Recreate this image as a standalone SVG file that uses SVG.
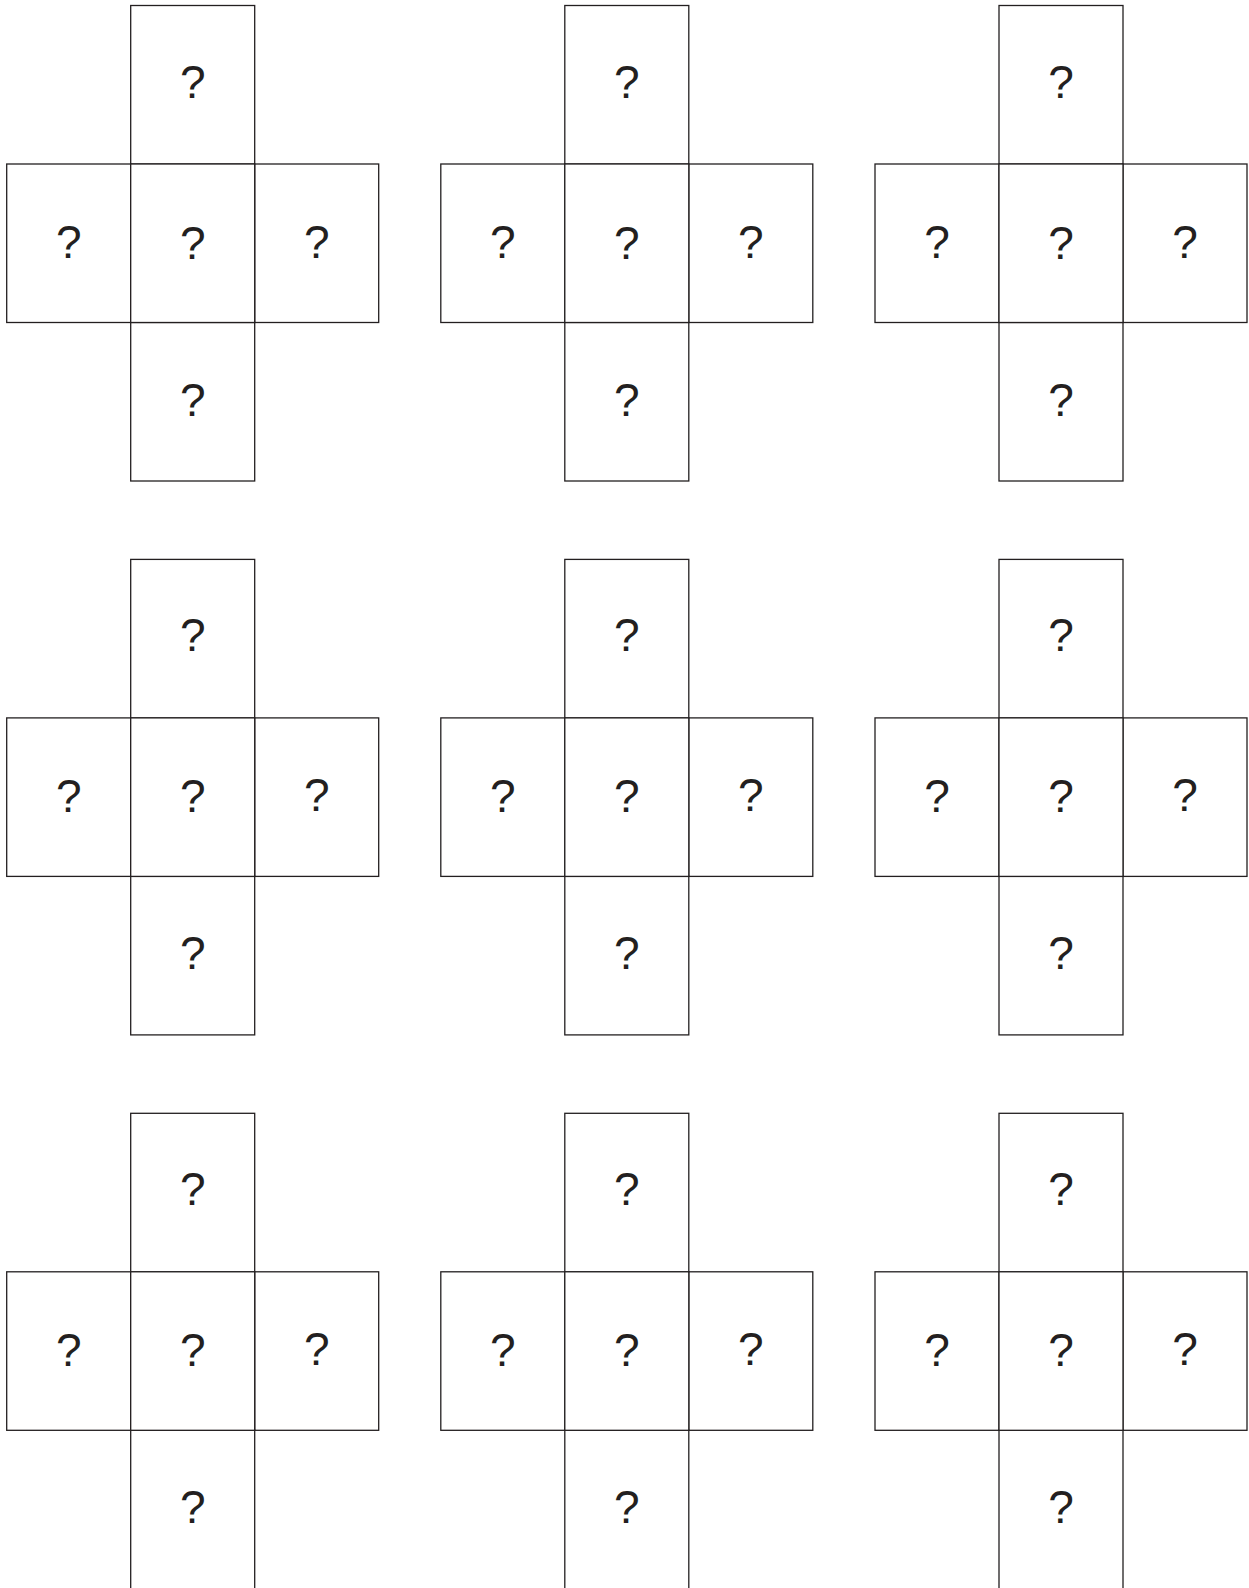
<svg xmlns="http://www.w3.org/2000/svg" width="1249" height="1588" viewBox="0 0 1249 1588">
<style>
.c rect{fill:#fff;stroke:#231f20;stroke-width:1.3}
.c text{font-family:"Liberation Sans",Arial,sans-serif;font-size:46px;fill:#231f20;text-anchor:middle}
</style>
<rect width="1249" height="1588" fill="#fff"/>
<defs>
<g id="cross">
<g class="c"><rect x="124" y="0" width="124" height="158.5"/><text x="186" y="92">?</text></g>
<g class="c"><rect x="0" y="158.5" width="124" height="158.5"/><text x="62" y="252.5">?</text></g>
<g class="c"><rect x="248" y="158.5" width="124" height="158.5"/><text x="310" y="252">?</text></g>
<g class="c"><rect x="124" y="317" width="124" height="158.5"/><text x="186" y="410">?</text></g>
<g class="c"><rect x="124" y="158.5" width="124" height="158.5"/><text x="186" y="253">?</text></g>
</g>
</defs>
<g id="cross-1-1" transform="translate(6.7,5.5)"><use href="#cross"/></g>
<g id="cross-1-2" transform="translate(440.8,5.5)"><use href="#cross"/></g>
<g id="cross-1-3" transform="translate(875,5.5)"><use href="#cross"/></g>
<g id="cross-2-1" transform="translate(6.7,559.4)"><use href="#cross"/></g>
<g id="cross-2-2" transform="translate(440.8,559.4)"><use href="#cross"/></g>
<g id="cross-2-3" transform="translate(875,559.4)"><use href="#cross"/></g>
<g id="cross-3-1" transform="translate(6.7,1113.3)"><use href="#cross"/></g>
<g id="cross-3-2" transform="translate(440.8,1113.3)"><use href="#cross"/></g>
<g id="cross-3-3" transform="translate(875,1113.3)"><use href="#cross"/></g>
</svg>
